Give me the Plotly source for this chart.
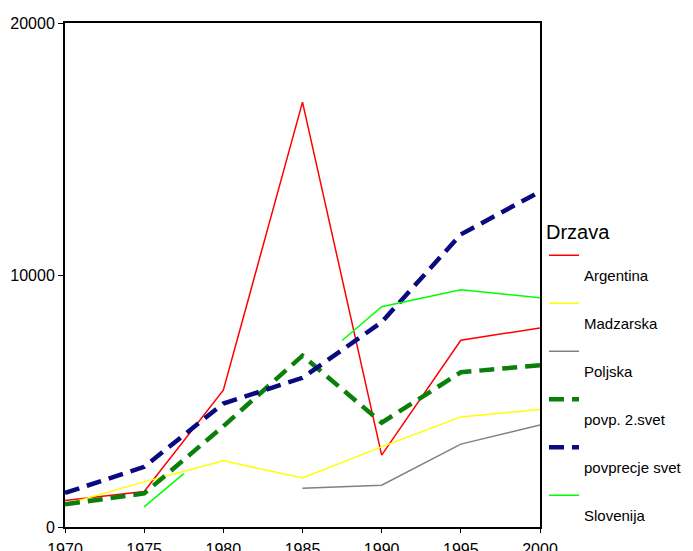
import plotly.graph_objects as go

years = [1970, 1975, 1980, 1985, 1990, 1995, 2000]

argentina = [1050, 1410, 5430, 16860, 2850, 7410, 7900]
madzarska = [890, 1790, 2625, 1950, 3180, 4370, 4660]
poljska = [None, None, None, 1540, 1660, 3290, 4050]
povp_2svet = [900, 1330, 4000, 6800, 4140, 6140, 6420]
povprecje_svet = [1350, 2390, 4900, 5920, 8130, 11610, 13310]
slovenija_years = [1975, 1977.5, 1985, 1987.5, 1990, 1995, 2000]
slovenija = [800, 2120, None, 7400, 8740, 9410, 9100]

y_ticks = [0, 10000, 20000]
y_tick_labels = ["0", "10000", "20000"]
x_ticks = [1970, 1975, 1980, 1985, 1990, 1995, 2000]

series = [
    ("Argentina", years, argentina, "#ff0000", 1.5, "solid"),
    ("Madzarska", years, madzarska, "#ffff00", 1.5, "solid"),
    ("Poljska", years, poljska, "#808080", 1.5, "solid"),
    ("povp. 2.svet", years, povp_2svet, "#0a800a", 4.5, "15px,8px"),
    ("povprecje svet", years, povprecje_svet, "#0a0a80", 4.5, "15px,8px"),
    ("Slovenija", slovenija_years, slovenija, "#00ff00", 1.5, "solid"),
]

fig = go.Figure()
for i, (name, xs, ys, color, width, dash) in enumerate(series):
    fig.add_trace(go.Scatter(
        x=xs, y=ys, mode="lines", name="<br>" + name,
        legendgroup="g%d" % i,
        line=dict(color=color, width=width, dash=dash),
        connectgaps=False,
    ))

# the page body adds an 8px offset, so the figure is 8px smaller than the window
fig.update_layout(
    width=685, height=543,
    margin=dict(l=57, r=153, t=15, b=23.5, autoexpand=False),
    paper_bgcolor="white", plot_bgcolor="white",
    font=dict(family="Liberation Sans, Arial, sans-serif", size=16, color="#000000"),
    showlegend=True,
    legend=dict(
        title=dict(text="Drzava", font=dict(size=20)),
        x=1.0084, xanchor="left", y=0.623, yanchor="top",
        valign="top", tracegroupgap=6,
        font=dict(size=15),
        bgcolor="rgba(0,0,0,0)",
    ),
    xaxis=dict(
        range=[1970, 2000], tickvals=x_ticks, showgrid=False, zeroline=False,
        showline=True, linecolor="black", linewidth=2, mirror=True,
        ticks="outside", ticklen=4, tickcolor="black", automargin=False,
        ticklabelstandoff=3,
    ),
    yaxis=dict(
        range=[0, 20000], tickvals=y_ticks, ticktext=y_tick_labels,
        showgrid=False, zeroline=False,
        showline=True, linecolor="black", linewidth=2, mirror=True,
        ticks="outside", ticklen=5, tickcolor="black", automargin=False,
    ),
)

fig.write_html("out.html")
